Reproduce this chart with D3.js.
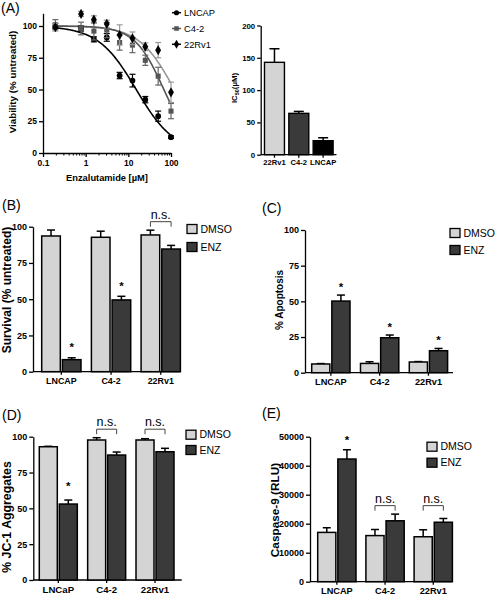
<!DOCTYPE html>
<html><head><meta charset="utf-8">
<script src="https://cdn.jsdelivr.net/npm/d3@7"></script>
<style>
body{margin:0;background:#fff}
svg{display:block}
text{font-family:"Liberation Sans",Arial,sans-serif;fill:#000}
</style>
</head><body>
<svg id="c" width="500" height="595"></svg>
<script>
// ---------------- DATA ----------------
// Panel A: dose-response
const doses = [0.195, 0.78, 1.56, 3.125, 6.25, 12.5, 25, 50, 100];
const lncapViab = [100, 98, 89.5, 91, 61, 57, 42, 29, 12.5];
const lncapErr  = [2, 2, 2, 3, 2.5, 5, 2.5, 4, 1];
const c42Viab   = [101, 98, 96, 96.8, 87, 85, 73, 60.5, 33];
const c42Err    = [4, 5, 7, 6, 6, 6, 4, 7, 6];
const rv1Viab   = [99, 109.5, 105, 101.6, 92.9, 90.3, 83.7, 81, 47.8];
const rv1Err    = [3, 2, 3, 3, 8, 5, 3, 6, 8];
const seriesNamesA = ["LNCAP", "C4-2", "22Rv1"];
const fitIC50 = [15.3, 68, 120];
const fitHill = [0.97, 1.27, 1.05];
const xTicksA = [0.1, 1, 10, 100];
const yTicksA = [0, 25, 50, 75, 100];

// Panel A inset: IC50
const ic50Cells = ["22Rv1", "C4-2", "LNCAP"];
const ic50Vals  = [143, 64, 21.7];
const ic50Err   = [21, 3, 4.5];
const ic50Ticks = [0, 50, 100, 150, 200];

// Panel B: survival
const catsB = ["LNCAP", "C4-2", "22Rv1"];
const survDMSO = [93.6, 92.7, 94.3];
const survDMSOErr = [4.1, 4.2, 3.3];
const survENZ = [8.3, 49.5, 84.6];
const survENZErr = [1.3, 2.5, 2.5];
const annB = ["*", "*", "n.s."];

// Panel C: apoptosis
const catsC = ["LNCAP", "C4-2", "22Rv1"];
const apopDMSO = [6.1, 6.5, 7.5];
const apopDMSOErr = [0.3, 1.2, 0.3];
const apopENZ = [50.2, 24.5, 15.4];
const apopENZErr = [4.2, 1.9, 1.6];
const annC = ["*", "*", "*"];

// Panel D: JC-1 aggregates
const catsD = ["LNCaP", "C4-2", "22Rv1"];
const jcDMSO = [93, 97.7, 97.7];
const jcDMSOErr = [0.3, 1.6, 0.9];
const jcENZ = [53, 87.2, 89.5];
const jcENZErr = [2.8, 2.1, 2.4];
const annD = ["*", "n.s.", "n.s."];

// Panel E: caspase-9
const catsE = ["LNCAP", "C4-2", "22Rv1"];
const caspDMSO = [17000, 15900, 15500];
const caspDMSOErr = [1600, 2100, 2400];
const caspENZ = [42300, 21000, 20500];
const caspENZErr = [3200, 2300, 1300];
const annE = ["*", "n.s.", "n.s."];

const treatments = ["DMSO", "ENZ"];
const pctTicks = [0, 25, 50, 75, 100];
const caspTicks = [0, 10000, 20000, 30000, 40000, 50000];

// ---------------- STYLE ----------------
const LIGHT = "#d4d4d4", DARK = "#3a3a3a";
const svg = d3.select("#c");

function styleAxis(g, fs) {
  g.selectAll(".domain").attr("stroke", "#000").attr("stroke-width", 1.3);
  g.selectAll(".tick line").attr("stroke", "#000").attr("stroke-width", 1.3);
  g.selectAll(".tick text").attr("font-size", fs).attr("font-weight", 700)
    .attr("font-family", '"Liberation Sans",Arial,sans-serif').attr("fill", "#000");
}

function panelLabel(t, x, y) {
  svg.append("text").attr("x", x).attr("y", y).attr("font-size", 14).text(t);
}

function yTitle(t, x, cy, fs) {
  svg.append("text").attr("transform", `translate(${x},${cy}) rotate(-90)`)
    .attr("text-anchor", "middle").attr("font-size", fs).attr("font-weight", 700).text(t);
}

// ---------------- PANEL A ----------------
panelLabel("(A)", 1, 13);
const xA = d3.scaleLog().domain([0.1, 100]).range([43, 171]);
const yA = d3.scaleLinear().domain([0, 110]).range([153, 153 - 110 * 1.27]);

const gYA = svg.append("g").attr("transform", "translate(43,0)")
  .call(d3.axisLeft(yA).tickValues(yTicksA).tickSize(4).tickSizeOuter(0).tickPadding(2));
styleAxis(gYA, 8.5);
const gXA = svg.append("g").attr("transform", "translate(0,153)")
  .call(d3.axisBottom(xA).tickValues(xTicksA).tickFormat(d3.format("~g")).tickSize(4).tickSizeOuter(0).tickPadding(3));
styleAxis(gXA, 8.5);
const minor = [];
[0.1, 1, 10].forEach(b => { for (let k = 2; k <= 9; k++) minor.push(b * k); });
const gXm = svg.append("g").attr("transform", "translate(0,153)")
  .call(d3.axisBottom(xA).tickValues(minor).tickFormat("").tickSize(2.5).tickSizeOuter(0));
gXm.select(".domain").remove();
gXm.selectAll(".tick line").attr("stroke", "#000").attr("stroke-width", 1);

yTitle("Viability (% untreated)", 16, 82, 9.8);
svg.append("text").attr("x", 107).attr("y", 181).attr("text-anchor", "middle")
  .attr("font-size", 9.3).attr("font-weight", 700).text("Enzalutamide [\u00B5M]");

const seriesA = [
  {name: seriesNamesA[0], v: lncapViab, e: lncapErr, ic: fitIC50[0], h: fitHill[0], curve: "#000", err: "#000", mk: "circle", mfill: "#000", leg: "#000"},
  {name: seriesNamesA[1], v: c42Viab, e: c42Err, ic: fitIC50[1], h: fitHill[1], curve: "#555", err: "#666", mk: "square", mfill: "#555", leg: "#555"},
  {name: seriesNamesA[2], v: rv1Viab, e: rv1Err, ic: fitIC50[2], h: fitHill[2], curve: "#9a9a9a", err: "#9a9a9a", mk: "diamond", mfill: "#000", leg: "#000"}
];
const symbolOf = {circle: d3.symbolCircle, square: d3.symbolSquare, diamond: d3.symbolDiamond};
const symSize = {circle: 26, square: 26, diamond: 30};

// fitted curves
const xsCurve = d3.range(Math.log10(0.17), Math.log10(100) + 1e-9, 0.02).map(l => Math.pow(10, l));
seriesA.slice().reverse().forEach(s => {
  const line = d3.line().x(d => xA(d)).y(d => yA(100 / (1 + Math.pow(d / s.ic, s.h)))).curve(d3.curveLinear);
  svg.append("path").datum(xsCurve).attr("d", line).attr("fill", "none")
    .attr("stroke", s.curve).attr("stroke-width", 1.6);
});
// error bars & markers
seriesA.forEach(s => {
  const g = svg.append("g");
  doses.forEach((d, i) => {
    const cx = xA(d), y1 = yA(s.v[i] - s.e[i]), y2 = yA(s.v[i] + s.e[i]);
    g.append("line").attr("x1", cx).attr("x2", cx).attr("y1", y1).attr("y2", y2).attr("stroke", s.err).attr("stroke-width", 1.2);
    [y1, y2].forEach(yy => g.append("line").attr("x1", cx - 3).attr("x2", cx + 3).attr("y1", yy).attr("y2", yy).attr("stroke", s.err).attr("stroke-width", 1.2));
  });
  g.selectAll("path.m").data(doses).enter().append("path")
    .attr("transform", (d, i) => `translate(${xA(d)},${yA(s.v[i])})`)
    .attr("d", d3.symbol().type(symbolOf[s.mk]).size(symSize[s.mk]))
    .attr("fill", s.mfill);
});
// legend A
seriesA.forEach((s, i) => {
  const ly = 12.7 + i * 15.8, lx = 172;
  svg.append("line").attr("x1", lx).attr("x2", lx + 9).attr("y1", ly).attr("y2", ly).attr("stroke", s.leg).attr("stroke-width", 1.5);
  svg.append("path").attr("transform", `translate(${lx + 4.5},${ly})`)
    .attr("d", d3.symbol().type(symbolOf[s.mk]).size(symSize[s.mk] * 0.8)).attr("fill", s.leg);
  svg.append("text").attr("x", lx + 12).attr("y", ly).attr("dy", "0.35em").attr("font-size", 9.3).text(s.name);
});

// ---------------- IC50 inset ----------------
const yI = d3.scaleLinear().domain([0, 200]).range([154.7, 25.5]);
const xI = d3.scaleBand().domain(ic50Cells).range([262.3, 335.3]).paddingInner(0.18).paddingOuter(0.09);
const gYI = svg.append("g").attr("transform", "translate(260.7,0)")
  .call(d3.axisLeft(yI).tickValues(ic50Ticks).tickSize(3.5).tickSizeOuter(0).tickPadding(2));
styleAxis(gYI, 7.8);
const gXI = svg.append("g").attr("transform", "translate(0,154.7)")
  .call(d3.axisBottom(xI).tickSize(3).tickSizeOuter(0).tickPadding(2));
gXI.select(".domain").remove();
styleAxis(gXI, 7.6);
svg.append("line").attr("x1", 260.7).attr("x2", 336.5).attr("y1", 154.7).attr("y2", 154.7).attr("stroke", "#000").attr("stroke-width", 1.3);
const ic50Fill = [LIGHT, DARK, "#000"];
ic50Cells.forEach((c, i) => {
  const x = xI(c), w = xI.bandwidth(), cx = x + w / 2;
  const top = yI(ic50Vals[i] + ic50Err[i]);
  svg.append("line").attr("x1", cx).attr("x2", cx).attr("y1", yI(ic50Vals[i])).attr("y2", top).attr("stroke", "#000").attr("stroke-width", 1.5);
  svg.append("line").attr("x1", cx - 5).attr("x2", cx + 5).attr("y1", top).attr("y2", top).attr("stroke", "#000").attr("stroke-width", 1.5);
  svg.append("rect").attr("x", x).attr("y", yI(ic50Vals[i])).attr("width", w).attr("height", yI(0) - yI(ic50Vals[i]))
    .attr("fill", ic50Fill[i]).attr("stroke", "#000").attr("stroke-width", 1.4);
});
const icT = svg.append("text").attr("transform", "translate(237,88) rotate(-90)").attr("text-anchor", "middle")
  .attr("font-size", 7.8).attr("font-weight", 700);
icT.append("tspan").text("IC");
icT.append("tspan").attr("font-size", 5.5).attr("dy", 2).text("50");
icT.append("tspan").attr("dy", -2).text("(\u00B5M)");

// ---------------- BAR PANELS ----------------
function barPanel(p) {
  const n = p.cats.length, po = 0.1, pi = 1 - p.gw / p.step;
  const r0 = p.s - po * p.step, r1 = r0 + p.step * (n - pi + 2 * po);
  const x = d3.scaleBand().domain(p.cats).range([r0, r1]).paddingInner(pi).paddingOuter(po);
  const xs = d3.scaleBand().domain(treatments).range([0, x.bandwidth()]).paddingInner(0.1);
  const y = d3.scaleLinear().domain([0, p.yMax]).range([p.yBot, p.yTop]);

  panelLabel(p.label, p.lx, p.ly);
  const gy = svg.append("g").attr("transform", `translate(${p.ax},0)`)
    .call(d3.axisLeft(y).tickValues(p.ticks).tickFormat(d3.format("d")).tickSize(4).tickSizeOuter(0).tickPadding(2));
  styleAxis(gy, 9);
  const gx = svg.append("g").attr("transform", `translate(0,${p.yBot})`)
    .call(d3.axisBottom(x).tickSize(3).tickSizeOuter(0).tickPadding(3));
  gx.select(".domain").remove();
  styleAxis(gx, p.catFs);
  svg.append("line").attr("x1", p.ax).attr("x2", p.xEnd).attr("y1", p.yBot).attr("y2", p.yBot)
    .attr("stroke", "#000").attr("stroke-width", 1.3);
  yTitle(p.title, p.tx, p.tcy, p.tfs);

  const vals = [p.dmso, p.enz], errs = [p.dmsoErr, p.enzErr], fills = [LIGHT, DARK];
  const g = svg.append("g");
  p.cats.forEach((c, i) => {
    treatments.forEach((t, j) => {
      const bx = x(c) + xs(t), bw = xs.bandwidth(), cx = bx + bw / 2;
      const v = vals[j][i], e = errs[j][i], top = y(v + e);
      g.append("line").attr("x1", cx).attr("x2", cx).attr("y1", y(v)).attr("y2", top).attr("stroke", "#000").attr("stroke-width", 1.5);
      g.append("line").attr("x1", cx - 4).attr("x2", cx + 4).attr("y1", top).attr("y2", top).attr("stroke", "#000").attr("stroke-width", 1.5);
      g.append("rect").attr("x", bx).attr("y", y(v)).attr("width", bw).attr("height", y(0) - y(v))
        .attr("fill", fills[j]).attr("stroke", "#000").attr("stroke-width", 1.5);
    });
  });
  // annotations
  const nsIdx = p.ann.map((a, i) => a === "n.s." ? i : -1).filter(i => i >= 0);
  const nsTop = nsIdx.length ? d3.min(nsIdx, i => Math.min(y(p.dmso[i] + p.dmsoErr[i]), y(p.enz[i] + p.enzErr[i]))) : 0;
  p.cats.forEach((c, i) => {
    const cD = x(c) + xs("DMSO") + xs.bandwidth() / 2, cE = x(c) + xs("ENZ") + xs.bandwidth() / 2;
    if (p.ann[i] === "*") {
      const top = y(p.enz[i] + p.enzErr[i]);
      svg.append("text").attr("x", cE).attr("y", top - 2.5 - p.starGap).attr("text-anchor", "middle")
        .attr("font-size", 11.5).attr("font-weight", 700).text("*");
    } else if (p.ann[i] === "n.s.") {
      const yb = nsTop - 3.5, yt = yb - 5;
      svg.append("path").attr("d", `M${cD},${yb}V${yt}H${cE}V${yb}`).attr("fill", "none")
        .attr("stroke", "#444").attr("stroke-width", 1);
      svg.append("text").attr("x", (cD + cE) / 2).attr("y", yt - 3).attr("text-anchor", "middle")
        .attr("font-size", 12.5).attr("fill", "#222").text("n.s.");
    }
  });
  // legend
  treatments.forEach((t, j) => {
    const cy = p.legY[j];
    svg.append("rect").attr("x", p.legX).attr("y", cy - 4.5).attr("width", 10).attr("height", 9)
      .attr("fill", fills[j]).attr("stroke", "#000").attr("stroke-width", 1.3);
    svg.append("text").attr("x", p.legX + 13.5).attr("y", cy).attr("dy", "0.35em").attr("font-size", 10.5).text(t);
  });
}

barPanel({cats: catsB, dmso: survDMSO, dmsoErr: survDMSOErr, enz: survENZ, enzErr: survENZErr, ann: annB,
  yMax: 100, ticks: pctTicks, ax: 33, xEnd: 180, yTop: 226.7, yBot: 371.7, s: 41.7, step: 49.7, gw: 39.3,
  label: "(B)", lx: 2, ly: 210, title: "Survival (% untreated)", tx: 11, tcy: 290, tfs: 12, catFs: 8.9,
  legX: 187, legY: [229, 247], starGap: 4});

barPanel({cats: catsC, dmso: apopDMSO, dmsoErr: apopDMSOErr, enz: apopENZ, enzErr: apopENZErr, ann: annC,
  yMax: 100, ticks: pctTicks, ax: 305, xEnd: 453, yTop: 230, yBot: 372.7, s: 311.7, step: 48.8, gw: 38.3,
  label: "(C)", lx: 262, ly: 213, title: "% Apoptosis", tx: 283, tcy: 300, tfs: 10, catFs: 9.2,
  legX: 450, legY: [233, 250], starGap: 2});

barPanel({cats: catsD, dmso: jcDMSO, dmsoErr: jcDMSOErr, enz: jcENZ, enzErr: jcENZErr, ann: annD,
  yMax: 100, ticks: pctTicks, ax: 33.3, xEnd: 181.7, yTop: 436.7, yBot: 580, s: 39.3, step: 48.35, gw: 38,
  label: "(D)", lx: 2, ly: 420, title: "% JC-1 Aggregates", tx: 11, tcy: 517, tfs: 12.3, catFs: 9.6,
  legX: 186, legY: [434.7, 450], starGap: 8});

barPanel({cats: catsE, dmso: caspDMSO, dmsoErr: caspDMSOErr, enz: caspENZ, enzErr: caspENZErr, ann: annE,
  yMax: 50000, ticks: caspTicks, ax: 310, xEnd: 452, yTop: 436.7, yBot: 581.7, s: 317.7, step: 48.2, gw: 38.3,
  label: "(E)", lx: 262, ly: 418, title: "Caspase-9 (RLU)", tx: 279, tcy: 510, tfs: 11.8, catFs: 9.2,
  legX: 427, legY: [446.7, 462.7], starGap: 3});
</script>
</body></html>
